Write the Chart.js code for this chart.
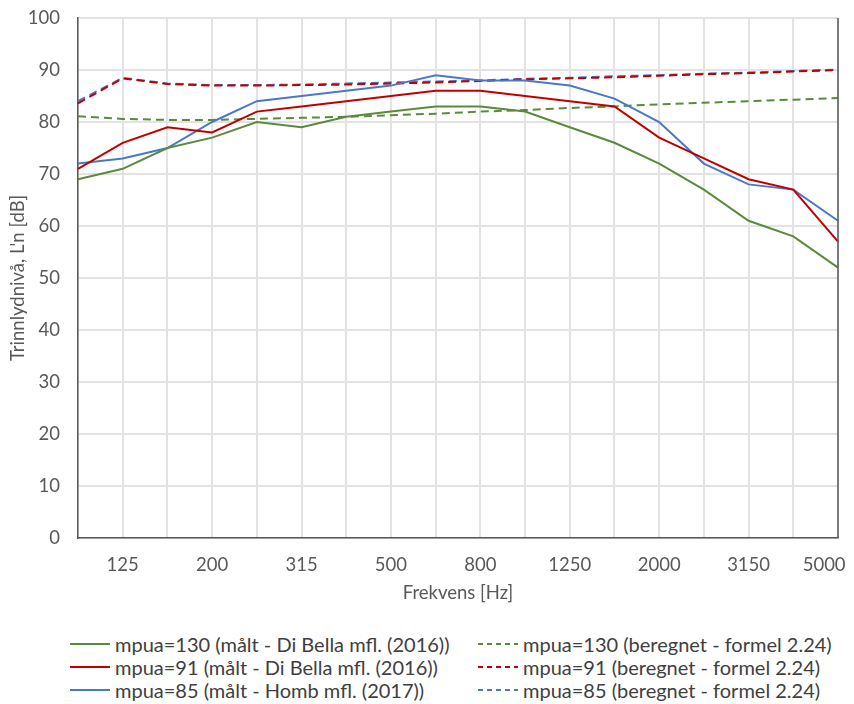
<!DOCTYPE html>
<html>
<head>
<meta charset="utf-8">
<script src="https://cdn.jsdelivr.net/npm/chart.js@4"></script>
<style>
  body { margin: 0; background: #fff; font-family: Lato, "Open Sans", sans-serif; }
  #wrap { position: relative; width: 854px; height: 608px; }
  #legend { position: absolute; top: 632px; left: 0; width: 854px; }
  .item { position: absolute; display: flex; align-items: center; height: 23px; font-size: 20px; color: #404040; white-space: nowrap; }
  .item svg { margin-right: 5px; }
</style>
</head>
<body>
<div id="wrap"><canvas id="chart" width="854" height="608"></canvas></div>
<div id="legend"></div>
<script>
const frekvens = ['100', '125', '160', '200', '250', '315', '400', '500', '630', '800', '1000', '1250', '1600', '2000', '2500', '3150', '4000', '5000'];

const maalt130 = [69, 71, 75, 77, 80, 79, 81, 82, 83, 83, 82, 79, 76, 72, 67, 61, 58, 52];
const maalt91 = [71, 76, 79, 78, 82, 83, 84, 85, 86, 86, 85, 84, 83, 77, 73, 69, 67, 57];
const maalt85 = [72, 73, 75, 80, 84, 85, 86, 87, 89, 88, 88, 87, 84.5, 80, 72, 68, 67, 61];

const beregnet130 = [81.1, 80.6, 80.4, 80.4, 80.6, 80.8, 81.0, 81.3, 81.6, 82.0, 82.3, 82.7, 83.0, 83.4, 83.7, 84.0, 84.3, 84.6];
const beregnet91 = [83.6, 88.4, 87.3, 87.0, 87.0, 87.1, 87.2, 87.4, 87.6, 87.9, 88.2, 88.4, 88.6, 88.9, 89.2, 89.4, 89.7, 90.0];
const beregnet85 = [84.0, 88.5, 87.4, 87.1, 87.1, 87.2, 87.4, 87.6, 87.8, 88.0, 88.3, 88.5, 88.8, 89.0, 89.3, 89.5, 89.8, 90.1];

const gronn = '#5b8a3c';
const rod = '#c00000';
const blaa = '#4a78c8';
const tekst = '#595959';
const font = 'Lato, "Open Sans", sans-serif';

function serie(label, data, color, dashed) {
    return {
        label: label,
        data: data,
        borderColor: color,
        backgroundColor: color,
        borderWidth: 2,
        borderDash: dashed ? [8, 5] : [],
        pointRadius: 0,
        tension: 0,
        fill: false
    };
}

const datasets = [
    serie('mpua=130 (målt - Di Bella mfl. (2016))', maalt130, gronn, false),
    serie('mpua=91 (målt - Di Bella mfl. (2016))', maalt91, rod, false),
    serie('mpua=85 (målt - Homb mfl. (2017))', maalt85, blaa, false),
    serie('mpua=130 (beregnet - formel 2.24)', beregnet130, gronn, true),
    serie('mpua=91 (beregnet - formel 2.24)', beregnet91, rod, true),
    serie('mpua=85 (beregnet - formel 2.24)', beregnet85, blaa, true)
];

// right frame line
const rammeHoyre = {
    id: 'rammeHoyre',
    afterDraw(chart) {
        const a = chart.chartArea;
        const ctx = chart.ctx;
        ctx.save();
        ctx.strokeStyle = '#595959';
        ctx.lineWidth = 1.5;
        ctx.beginPath();
        ctx.moveTo(a.right, a.top);
        ctx.lineTo(a.right, a.bottom);
        ctx.stroke();
        ctx.restore();
    }
};

const chart = document.querySelector('#chart');

new Chart(chart, {
    type: 'line',
    data: {
        labels: frekvens,
        datasets: datasets
    },
    options: {
        responsive: false,
        animation: false,
        layout: {
            padding: { top: 18, right: 16, left: 0, bottom: 0 }
        },
        plugins: {
            legend: { display: false },
            tooltip: { enabled: false }
        },
        scales: {
            x: {
                type: 'category',
                offset: false,
                grid: { color: '#e3e3e3', lineWidth: 2, drawTicks: false },
                border: { color: '#595959', width: 1.5 },
                ticks: {
                    autoSkip: false,
                    maxRotation: 0,
                    padding: 16,
                    color: tekst,
                    font: { family: font, size: 18.5 },
                    callback: function (val, i) {
                        if (i % 2 !== 1) return '';
                        // last label is pushed inside the plot like in the original
                        return i === frekvens.length - 1 ? frekvens[i] + '\u2003\u2003' : frekvens[i];
                    }
                },
                title: {
                    display: true,
                    text: 'Frekvens [Hz]',
                    color: tekst,
                    font: { family: font, size: 18.5 },
                    padding: { top: 4, bottom: 4 }
                },
                afterFit: function (scale) {
                    scale.height = 70;
                    scale.paddingLeft = 0;
                    scale.paddingRight = 0;
                }
            },
            y: {
                min: 0,
                max: 100,
                grid: { color: '#e3e3e3', lineWidth: 2, drawTicks: false },
                border: { color: '#595959', width: 1.5 },
                ticks: {
                    stepSize: 10,
                    padding: 18,
                    color: tekst,
                    font: { family: font, size: 18.5 }
                },
                title: {
                    display: true,
                    text: "Trinnlydnivå, L'n [dB]",
                    color: tekst,
                    font: { family: font, size: 18.5 },
                    padding: { top: 7, bottom: 4 }
                },
                afterFit: function (scale) {
                    scale.width = 78;
                    scale.paddingTop = 0;
                    scale.paddingBottom = 0;
                }
            }
        }
    },
    plugins: [rammeHoyre]
});

// legend in two columns
const legend = document.querySelector('#legend');
const svgNS = 'http://www.w3.org/2000/svg';
datasets.forEach(function (d, i) {
    const kol = i < 3 ? 0 : 1;
    const rad = i % 3;
    const el = document.createElement('div');
    el.className = 'item';
    el.style.left = (kol === 0 ? 70 : 478) + 'px';
    el.style.top = (rad * 23) + 'px';
    const svg = document.createElementNS(svgNS, 'svg');
    svg.setAttribute('width', '40');
    svg.setAttribute('height', '4');
    const ln = document.createElementNS(svgNS, 'line');
    ln.setAttribute('x1', '0');
    ln.setAttribute('y1', '2');
    ln.setAttribute('x2', '40');
    ln.setAttribute('y2', '2');
    ln.setAttribute('stroke', d.borderColor);
    ln.setAttribute('stroke-width', '2');
    if (d.borderDash.length) ln.setAttribute('stroke-dasharray', '5,4');
    svg.appendChild(ln);
    el.appendChild(svg);
    el.appendChild(document.createTextNode(d.label));
    legend.appendChild(el);
});
</script>
</body>
</html>
